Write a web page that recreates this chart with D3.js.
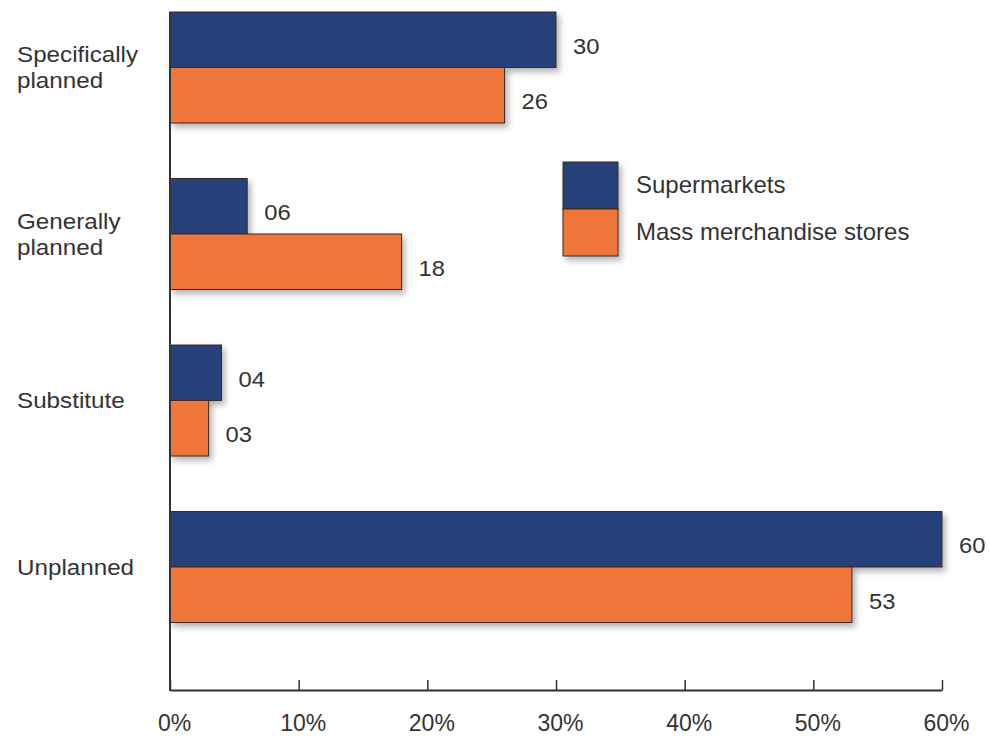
<!DOCTYPE html>
<html>
<head>
<meta charset="utf-8">
<script src="https://cdn.jsdelivr.net/npm/d3@7"></script>
<style>
  html, body { margin: 0; padding: 0; background: #fff; }
  svg { display: block; font-family: "Liberation Sans", Arial, sans-serif; }
</style>
</head>
<body>
<svg id="chart" width="989" height="736"></svg>
<script>
// Purchase type categories (line breaks marked with "|")
const categories = ["Specifically|planned", "Generally|planned", "Substitute", "Unplanned"];
const seriesNames = ["Supermarkets", "Mass merchandise stores"];
const supermarkets = [30, 6, 4, 60];
const massMerchandise = [26, 18, 3, 53];
const tickValues = [0, 10, 20, 30, 40, 50, 60];
const colors = ["#273f7a", "#f07538"];

const svg = d3.select("#chart");
const axisY = 690;

const x = d3.scaleLinear().domain([0, 60]).range([170, 942]);
const y = d3.scaleBand().domain(categories).range([12, 622.5]).paddingInner(1 / 3).paddingOuter(0);
const ySub = d3.scaleBand().domain(seriesNames).range([0, y.bandwidth()]);

// widen text horizontally by factor k (keeps it as real text)
function stretch(sel, k) {
  sel.each(function () {
    const w = this.getComputedTextLength();
    d3.select(this).attr("textLength", w * k).attr("lengthAdjust", "spacingAndGlyphs");
  });
}

// soft drop shadow beneath bars
const defs = svg.append("defs");
const f = defs.append("filter").attr("id", "shadow")
  .attr("x", "-10%").attr("y", "-20%").attr("width", "130%").attr("height", "150%");
f.append("feDropShadow").attr("dx", 3).attr("dy", 4).attr("stdDeviation", 3)
  .attr("flood-color", "#000").attr("flood-opacity", 0.3);

const rows = categories.map((c, i) => ({
  cat: c,
  values: [
    { name: seriesNames[0], v: supermarkets[i], color: colors[0] },
    { name: seriesNames[1], v: massMerchandise[i], color: colors[1] }
  ]
}));

const groups = svg.append("g").selectAll("g.group").data(rows).join("g")
  .attr("class", "group")
  .attr("transform", d => `translate(0,${y(d.cat)})`);

groups.selectAll("rect.bar").data(d => d.values).join("rect")
  .attr("class", "bar")
  .attr("x", x(0))
  .attr("y", d => ySub(d.name))
  .attr("width", d => x(d.v) - x(0))
  .attr("height", ySub.bandwidth())
  .attr("fill", d => d.color)
  .attr("stroke", "#3a2a22")
  .attr("stroke-width", 1)
  .attr("filter", "url(#shadow)");

const fmt = d => String(d).padStart(2, "0");
const vals = groups.selectAll("text.val").data(d => d.values).join("text")
  .attr("class", "val")
  .attr("x", d => x(d.v) + 17)
  .attr("y", d => ySub(d.name) + ySub.bandwidth() / 2 + 14)
  .attr("font-size", 22)
  .attr("fill", "#333")
  .text(d => fmt(d.v));
stretch(vals, 1.08);

// category labels, one text element per line
const lh = 26;
const catLines = [];
categories.forEach(c => {
  const lines = c.split("|");
  const mid = y(c) + y.bandwidth() / 2;
  lines.forEach((ln, i) => {
    catLines.push({ text: ln, cy: mid + (i - (lines.length - 1) / 2) * lh });
  });
});
const cats = svg.append("g").selectAll("text").data(catLines).join("text")
  .attr("x", 17)
  .attr("y", d => d.cy + 7.5)
  .attr("font-size", 22)
  .attr("fill", "#333")
  .text(d => d.text);
stretch(cats, 1.1);

// vertical axis line
svg.append("line")
  .attr("x1", x(0)).attr("x2", x(0))
  .attr("y1", 12).attr("y2", axisY + 1)
  .attr("stroke", "#333").attr("stroke-width", 2);

// horizontal axis with upward ticks
const xAxis = d3.axisBottom(x)
  .tickValues(tickValues)
  .tickFormat(d => d + "%")
  .tickSizeInner(-10)
  .tickSizeOuter(0);
const ax = svg.append("g").attr("transform", `translate(0,${axisY})`).call(xAxis);
ax.select(".domain").attr("stroke", "#333").attr("stroke-width", 2);
ax.selectAll(".tick line").attr("stroke", "#333").attr("stroke-width", 1.5);
ax.selectAll(".tick text")
  .attr("y", 41)
  .attr("dy", null)
  .attr("dx", 4)
  .attr("font-size", 23)
  .attr("font-family", "\"Liberation Sans\", Arial, sans-serif")
  .attr("fill", "#333");

// legend
const legend = svg.append("g").attr("transform", "translate(563,162)");
const lg = legend.selectAll("g").data(seriesNames).join("g")
  .attr("transform", (d, i) => `translate(0,${i * 47})`);
lg.append("rect")
  .attr("width", 55).attr("height", 47)
  .attr("fill", (d, i) => colors[i])
  .attr("stroke", "#3a2a22").attr("stroke-width", 1)
  .attr("filter", "url(#shadow)");
lg.append("text")
  .attr("x", 73).attr("y", 31)
  .attr("font-size", 24).attr("fill", "#333")
  .text(d => d);
</script>
</body>
</html>
